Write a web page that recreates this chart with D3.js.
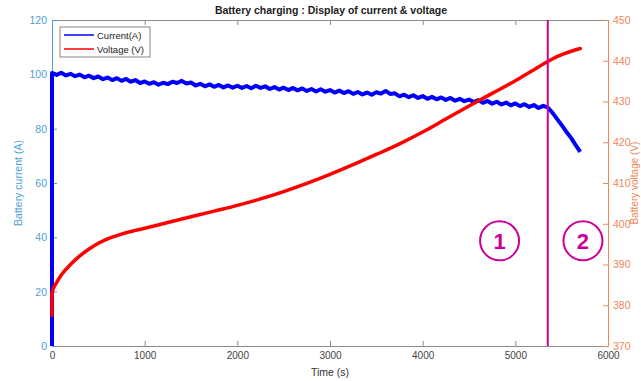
<html>
<head>
  <title>Battery charging</title>
  <script src="https://cdn.jsdelivr.net/npm/d3@7"></script>
  <style>
    body { margin: 0; background: #fff; }
    text { font-family: "Liberation Sans", Arial, sans-serif; }
  </style>
</head>
<body>
<script>
  // Strøm (A), hver 50. sekund
  const currentTimes = [0, 0, 50, 100, 150, 200, 250, 300, 350, 400, 450, 500, 550, 600, 650, 700, 750, 800, 850, 900, 950,
    1000, 1050, 1100, 1150, 1200, 1250, 1300, 1350, 1400, 1450, 1500, 1550, 1600, 1650, 1700, 1750, 1800, 1850, 1900, 1950,
    2000, 2050, 2100, 2150, 2200, 2250, 2300, 2350, 2400, 2450, 2500, 2550, 2600, 2650, 2700, 2750, 2800, 2850, 2900, 2950,
    3000, 3050, 3100, 3150, 3200, 3250, 3300, 3350, 3400, 3450, 3500, 3550, 3600, 3650, 3700, 3750, 3800, 3850, 3900, 3950,
    4000, 4050, 4100, 4150, 4200, 4250, 4300, 4350, 4400, 4450, 4500, 4550, 4600, 4650, 4700, 4750, 4800, 4850, 4900, 4950,
    5000, 5050, 5100, 5150, 5200, 5250, 5300, 5350, 5400, 5450, 5500, 5550, 5600, 5650, 5700];
  const currentValues = [0, 100.5, 99.8, 100.6, 99.6, 100.2, 99.3, 99.9, 98.9, 99.5, 98.6, 99.2, 98.2, 98.8, 97.9, 98.6, 97.6, 98.3, 97.3, 97.9, 96.8,
    97.4, 96.5, 97.1, 96.2, 96.9, 96.4, 97.3, 96.8, 97.6, 96.6, 97.0, 95.9, 96.5, 95.6, 96.3, 95.4, 96.1, 95.2, 95.9, 95.1,
    95.8, 95.0, 95.7, 94.9, 95.8, 95.0, 95.6, 94.6, 95.3, 94.4, 95.1, 94.2, 95.0, 94.1, 94.8, 93.9, 94.6, 93.7, 94.5, 93.6,
    94.2, 93.3, 94.0, 93.1, 93.8, 92.8, 93.5, 92.6, 93.3, 92.5, 93.4, 92.9, 93.9, 92.8, 93.0, 91.9, 92.5, 91.6, 92.3, 91.3,
    92.0, 91.0, 91.7, 90.8, 91.5, 90.6, 91.3, 90.3, 91.0, 90.1, 90.7, 89.8, 90.5, 89.5, 90.2, 89.2, 89.9, 88.9, 89.6, 88.6,
    89.3, 88.3, 89.0, 88.0, 88.7, 87.6, 88.4, 87.8, 85.9, 83.6, 81.3, 78.9, 76.7, 74.0, 71.5];

  // Spænding (V)
  const voltageTimes = [0, 0, 50, 100, 200, 300, 400, 500, 600, 700, 800, 1000, 1250, 1500, 1750, 2000, 2250, 2500, 2750,
    3000, 3250, 3500, 3750, 4000, 4250, 4500, 4750, 5000, 5200, 5350, 5450, 5550, 5700];
  const voltageValues = [377.5, 383, 385.6, 387.4, 390.0, 392.1, 393.8, 395.2, 396.3, 397.1, 397.8, 398.9, 400.3, 401.7, 403.1, 404.5, 406.1, 407.9, 409.9,
    412.1, 414.5, 417.0, 419.6, 422.5, 425.7, 428.9, 432.0, 435.1, 437.8, 439.8, 441.0, 441.9, 443.0];

  // Akser
  const xTicks = [0, 1000, 2000, 3000, 4000, 5000, 6000];
  const leftTicks = [0, 20, 40, 60, 80, 100, 120];
  const rightTicks = [370, 380, 390, 400, 410, 420, 430, 440, 450];

  // Markering af faser
  const splitTime = 5350;
  const phaseTimes = [4830, 5730];
  const phaseLabels = ["1", "2"];
  const phaseLevel = 38.7;

  const w = 641, h = 381;
  const mLeft = 52, mRight = 608, mTop = 20, mBottom = 346;
  const blueAxis = "#4d9fd6", orangeAxis = "#f0865a", grey = "#8c8c8c", magenta = "#cc0099";

  const x = d3.scaleLinear().domain([0, 6000]).range([mLeft, mRight]);
  const yL = d3.scaleLinear().domain([0, 120]).range([mBottom, mTop]);
  const yR = d3.scaleLinear().domain([370, 450]).range([mBottom, mTop]);

  const svg = d3.select("body").append("svg").attr("width", w).attr("height", h);

  // Titel
  svg.append("text").attr("x", 331).attr("y", 14).attr("text-anchor", "middle")
    .attr("font-size", 10.5).attr("font-weight", "bold").attr("fill", "#222")
    .text("Battery charging : Display of current & voltage");

  // Top-ramme
  svg.append("g").attr("transform", "translate(0," + mTop + ")")
    .call(d3.axisBottom(x).tickValues(xTicks).tickSize(5).tickFormat(""))
    .call(g => g.selectAll("line,path").attr("stroke", grey));

  // x-akse
  const xg = svg.append("g").attr("transform", "translate(0," + mBottom + ")")
    .call(d3.axisTop(x).tickValues(xTicks).tickSize(5).tickSizeOuter(0).tickFormat(d3.format("d")));
  xg.selectAll("line,path").attr("stroke", grey);
  xg.selectAll("text").attr("y", 13).attr("dy", "0").attr("font-size", 10).attr("fill", "#444")
    .style("font-family", "Liberation Sans, Arial, sans-serif");
  svg.append("text").attr("x", 330).attr("y", 376).attr("text-anchor", "middle")
    .attr("font-size", 10.5).attr("fill", "#333").text("Time (s)");

  // Venstre akse
  const lg = svg.append("g").attr("transform", "translate(" + mLeft + ",0)")
    .call(d3.axisRight(yL).tickValues(leftTicks).tickSize(5).tickSizeOuter(0));
  lg.selectAll("line,path").attr("stroke", blueAxis);
  lg.selectAll("text").attr("x", -5).attr("text-anchor", "end").attr("font-size", 10.5).attr("fill", blueAxis)
    .style("font-family", "Liberation Sans, Arial, sans-serif");
  svg.append("text").attr("transform", "translate(22," + (mTop + mBottom) / 2 + ") rotate(-90)")
    .attr("text-anchor", "middle").attr("font-size", 10.5).attr("fill", blueAxis).text("Battery current (A)");

  // Højre akse
  const rg = svg.append("g").attr("transform", "translate(" + mRight + ",0)")
    .call(d3.axisLeft(yR).tickValues(rightTicks).tickSize(5).tickSizeOuter(0));
  rg.selectAll("line,path").attr("stroke", orangeAxis);
  rg.selectAll("text").attr("x", 5).attr("text-anchor", "start").attr("font-size", 10.5).attr("fill", orangeAxis)
    .style("font-family", "Liberation Sans, Arial, sans-serif");
  svg.append("text").attr("transform", "translate(638," + (mTop + mBottom) / 2 + ") rotate(-90)")
    .attr("text-anchor", "middle").attr("font-size", 10).attr("fill", orangeAxis).text("Battery voltage (V)");

  // Linjer
  const currentLine = d3.line().x((d, i) => x(currentTimes[i])).y(d => yL(d));
  svg.append("path").datum(currentValues).attr("d", currentLine)
    .attr("fill", "none").attr("stroke", "#0000ff").attr("stroke-width", 4).attr("stroke-linejoin", "round");

  const voltageLine = d3.line().x((d, i) => x(voltageTimes[i])).y(d => yR(d)).curve(d3.curveMonotoneX);
  svg.append("path").datum(voltageValues).attr("d", voltageLine)
    .attr("fill", "none").attr("stroke", "#ff0000").attr("stroke-width", 3.5).attr("stroke-linecap", "round");

  // Fase-markering
  svg.append("line").attr("x1", x(splitTime)).attr("x2", x(splitTime)).attr("y1", mTop).attr("y2", mBottom)
    .attr("stroke", magenta).attr("stroke-width", 2);
  const ph = svg.selectAll(".phase").data(phaseLabels).enter().append("g")
    .attr("transform", (d, i) => "translate(" + x(phaseTimes[i]) + "," + yL(phaseLevel) + ")");
  ph.append("circle").attr("r", 19.5).attr("fill", "none").attr("stroke", magenta).attr("stroke-width", 2);
  ph.append("text").attr("text-anchor", "middle").attr("dy", "0.36em").attr("font-size", 22)
    .attr("font-weight", "bold").attr("fill", magenta).text(d => d);

  // Legende
  const leg = svg.append("g").attr("transform", "translate(60,27)");
  leg.append("rect").attr("width", 90).attr("height", 30).attr("fill", "#fff").attr("stroke", "#666").attr("stroke-width", 0.8);
  const items = [["Current(A)", "#0000ff"], ["Voltage (V)", "#ff0000"]];
  items.forEach((it, i) => {
    leg.append("line").attr("x1", 4).attr("x2", 34).attr("y1", 8 + i * 14).attr("y2", 8 + i * 14)
      .attr("stroke", it[1]).attr("stroke-width", 1.5);
    leg.append("text").attr("x", 37).attr("y", 11.5 + i * 14).attr("font-size", 9.5).attr("fill", "#222").text(it[0]);
  });
</script>
</body>
</html>
